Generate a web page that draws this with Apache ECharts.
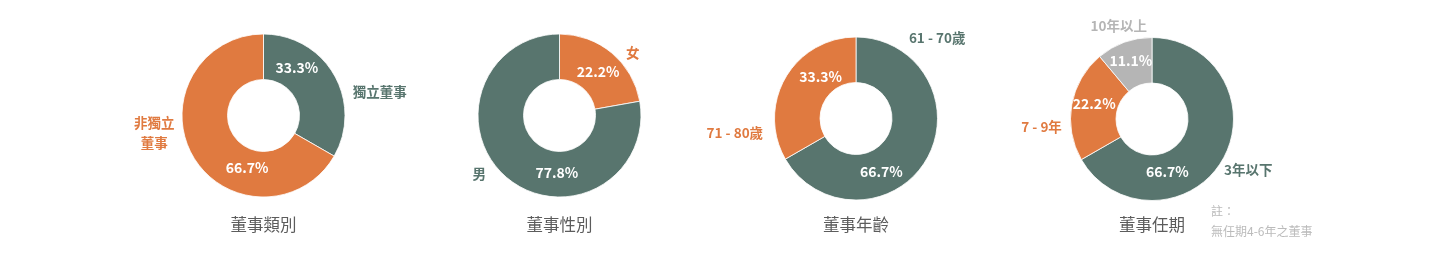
<!DOCTYPE html>
<html>
<head>
<meta charset="utf-8">
<script src="https://cdn.jsdelivr.net/npm/echarts@6/dist/echarts.min.js"></script>
<style>
html,body{margin:0;padding:0;background:#fff;}
#c{width:1440px;height:254px;}
</style>
</head>
<body>
<div id="c"></div>
<script>
// ---- data ----
const titles = ['董事類別', '董事性別', '董事年齡', '董事任期'];
const names1 = ['獨立董事', '非獨立\n董事'];
const values1 = [33.3, 66.7];
const names2 = ['女', '男'];
const values2 = [22.2, 77.8];
const names3 = ['61 - 70歲', '71 - 80歲'];
const values3 = [66.7, 33.3];
const names4 = ['3年以下', '7 - 9年', '10年以上'];
const values4 = [66.7, 22.2, 11.1];
const noteLines = ['註：', '無任期4-6年之董事'];

// ---- styles / layout ----
const GREEN = '#58756E', ORANGE = '#E07A40', GRAY = '#B5B5B5';
const FONT = '"Noto Sans CJK TC", "Noto Sans", sans-serif';
const charts = [
  {names: names1, values: values1, colors: [GREEN, ORANGE], center: [263.5, 115.5],
   pctOff: [[-20, -17], [37, 21]], nameOff: [[27, 28], [-20, -34]]},
  {names: names2, values: values2, colors: [ORANGE, GREEN], center: [559.5, 115.5],
   pctOff: [[-1, 4], [37, 10]], nameOff: [[7, 16], [-14, -21]]},
  {names: names3, values: values3, colors: [GREEN, ORANGE], center: [856, 118.5],
   pctOff: [[-28, 22], [18, -11]], nameOff: [[-8, -132], [-32, 66]]},
  {names: names4, values: values4, colors: [GREEN, ORANGE, GRAY], center: [1152, 119],
   pctOff: [[-38, 22], [3, -5], [0, 0]], nameOff: [[7, -1], [-9, 26], [2, 4]]}
];

const series = [];
const title = [];
charts.forEach((c, ci) => {
  series.push({
    type: 'pie', center: c.center, radius: [36, 81.5], startAngle: 90, clockwise: true,
    silent: true, animation: false,
    itemStyle: {borderColor: '#fff', borderWidth: 0.8},
    labelLine: {show: false},
    data: c.values.map((v, i) => ({
      value: v, name: c.names[i],
      itemStyle: {color: c.colors[i]},
      label: {
        show: true, position: 'inside', color: '#fff', fontWeight: 'bold',
        fontSize: 14, fontFamily: FONT, offset: c.pctOff[i],
        formatter: (p) => p.value.toFixed(1) + '%'
      }
    }))
  });
  series.push({
    type: 'pie', center: c.center, radius: [100, 100], startAngle: 90, clockwise: true,
    silent: true, animation: false,
    itemStyle: {color: 'transparent'},
    labelLine: {show: false},
    data: c.values.map((v, i) => ({
      value: v, name: c.names[i],
      label: {
        show: true, position: 'inside', color: c.colors[i], fontWeight: 'bold',
        fontSize: 13.5, lineHeight: 20, fontFamily: FONT, offset: c.nameOff[i],
        formatter: '{b}'
      }
    }))
  });
  title.push({
    text: titles[ci], left: c.center[0], top: 216, textAlign: 'center', padding: 0,
    textStyle: {fontSize: 16.5, fontWeight: 'normal', color: '#5c5c5c', fontFamily: FONT}
  });
});
title.push({
  text: noteLines.join('\n'), left: 1211, top: 201, padding: 0,
  textStyle: {fontSize: 12, fontWeight: 'normal', color: '#BBBBBB', lineHeight: 20, fontFamily: FONT}
});

const chart = echarts.init(document.getElementById('c'));
chart.setOption({backgroundColor: '#fff', animation: false, title: title, series: series});
</script>
</body>
</html>
